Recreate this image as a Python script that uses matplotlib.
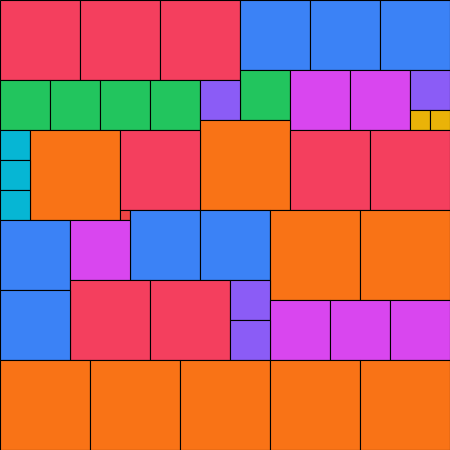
import numpy as np
import matplotlib.pyplot as plt
from matplotlib.patches import Rectangle

# each square's area (side = sqrt(value)), in placement order
groups = ["rose", "rose", "rose", "blue", "blue", "blue",
          "green", "fuchsia", "fuchsia", "violet",
          "green", "green", "green", "green", "violet",
          "amber", "amber", "orange",
          "cyan", "orange", "rose", "rose", "rose",
          "cyan", "cyan", "red",
          "blue", "blue", "orange", "orange",
          "blue", "fuchsia",
          "rose", "rose", "violet",
          "blue", "fuchsia", "fuchsia", "fuchsia", "violet",
          "orange", "orange", "orange", "orange", "orange"]
values = [64, 64, 64, 49, 49, 49,
          25, 36, 36, 16,
          25, 25, 25, 25, 16,
          4, 4, 81,
          9, 81, 64, 64, 64,
          9, 9, 1,
          49, 49, 81, 81,
          49, 36,
          64, 64, 16,
          49, 36, 36, 36, 16,
          81, 81, 81, 81, 81]

colors = {"rose": "#f43f5e", "blue": "#3b82f6", "green": "#22c55e",
          "violet": "#8b5cf6", "fuchsia": "#d946ef", "amber": "#eab308",
          "cyan": "#06b6d4", "orange": "#f97316", "red": "#ef4444"}

W = H = 45

# simple top-left fill packing
placed = []
for g, v in zip(groups, values):
    s = np.sqrt(v)
    ys = sorted({0} | {p[1] + p[2] for p in placed})
    xs = sorted({0} | {p[0] + p[2] for p in placed})
    done = False
    for y in ys:
        for x in xs:
            if x + s > W + 1e-9 or y + s > H + 1e-9:
                continue
            hit = any(x < px + ps - 1e-9 and px < x + s - 1e-9 and
                      y < py + ps - 1e-9 and py < y + s - 1e-9
                      for px, py, ps, _ in placed)
            if not hit:
                placed.append((x, y, s, g))
                done = True
                break
        if done:
            break

fig = plt.figure(figsize=(4.5, 4.5), dpi=100)
ax = fig.add_axes([0, 0, 1, 1])
for x, y, s, g in placed:
    ax.add_patch(Rectangle((x, y), s, s, facecolor=colors[g],
                           edgecolor="black", linewidth=0.8))
ax.set_xlim(0, W)
ax.set_ylim(H, 0)
ax.axis("off")

fig.savefig("out.png", dpi=100)
